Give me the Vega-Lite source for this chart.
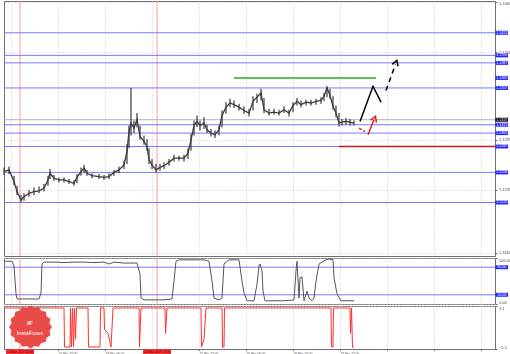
{
"$schema": "https://vega.github.io/schema/vega-lite/v6.json",
"padding": 0,
"background": "white",
"spacing": 2,
"bounds": "flush",
"config": {
  "view": {"stroke": "#707070", "strokeWidth": 1},
  "axis": {"gridColor": "#cccccc", "gridDash": [1, 2], "gridWidth": 1, "labelFont": "Liberation Sans", "labelFontSize": 4, "labelColor": "#444444", "domainColor": "#707070", "tickColor": "#707070", "tickSize": 2, "labelPadding": 1.5, "title": null, "labelFlush": true},
  "text": {"font": "Liberation Sans"}
},
"datasets": {
  "vlines": [{"x": 16}, {"x": 153}],
  "price": [
    {"x":0,"c":1.1257,"hi":1.1262,"lo":1.1253},{"x":5,"c":1.1259,"hi":1.1263,"lo":1.1254},{"x":10,"c":1.1245,"hi":1.1252,"lo":1.1241},{"x":13,"c":1.1233,"hi":1.1240,"lo":1.1229},{"x":17,"c":1.1223,"hi":1.1229,"lo":1.1220},{"x":20,"c":1.1227,"hi":1.1231,"lo":1.1222},{"x":25,"c":1.1231,"hi":1.1235,"lo":1.1227},{"x":30,"c":1.1233,"hi":1.1238,"lo":1.1229},{"x":35,"c":1.1234,"hi":1.1239,"lo":1.1231},{"x":40,"c":1.1237,"hi":1.1242,"lo":1.1233},{"x":44,"c":1.1247,"hi":1.1252,"lo":1.1240},{"x":46,"c":1.1255,"hi":1.1260,"lo":1.1248},{"x":50,"c":1.1249,"hi":1.1253,"lo":1.1246},{"x":55,"c":1.1247,"hi":1.1250,"lo":1.1244},{"x":60,"c":1.1247,"hi":1.1250,"lo":1.1244},{"x":65,"c":1.1245,"hi":1.1248,"lo":1.1242},{"x":70,"c":1.1243,"hi":1.1247,"lo":1.1240},{"x":73,"c":1.1250,"hi":1.1254,"lo":1.1243},{"x":77,"c":1.1257,"hi":1.1262,"lo":1.1252},{"x":80,"c":1.1261,"hi":1.1265,"lo":1.1255},{"x":83,"c":1.1255,"hi":1.1259,"lo":1.1252},{"x":88,"c":1.1252,"hi":1.1255,"lo":1.1249},{"x":95,"c":1.1251,"hi":1.1254,"lo":1.1248},{"x":100,"c":1.1250,"hi":1.1253,"lo":1.1247},{"x":105,"c":1.1251,"hi":1.1255,"lo":1.1248},{"x":110,"c":1.1256,"hi":1.1259,"lo":1.1252},{"x":115,"c":1.1259,"hi":1.1263,"lo":1.1255},{"x":120,"c":1.1265,"hi":1.1270,"lo":1.1260},{"x":123,"c":1.1281,"hi":1.1290,"lo":1.1266},{"x":125,"c":1.1305,"hi":1.1312,"lo":1.1285},{"x":127,"c":1.1315,"hi":1.1357,"lo":1.1300},{"x":130,"c":1.1309,"hi":1.1318,"lo":1.1303},{"x":133,"c":1.1319,"hi":1.1327,"lo":1.1310},{"x":136,"c":1.1299,"hi":1.1312,"lo":1.1295},{"x":140,"c":1.1293,"hi":1.1300,"lo":1.1289},{"x":143,"c":1.1287,"hi":1.1296,"lo":1.1282},{"x":145,"c":1.1271,"hi":1.1285,"lo":1.1266},{"x":148,"c":1.1265,"hi":1.1272,"lo":1.1260},{"x":152,"c":1.1259,"hi":1.1266,"lo":1.1256},{"x":156,"c":1.1262,"hi":1.1266,"lo":1.1258},{"x":160,"c":1.1264,"hi":1.1268,"lo":1.1260},{"x":165,"c":1.1268,"hi":1.1272,"lo":1.1264},{"x":170,"c":1.1273,"hi":1.1277,"lo":1.1269},{"x":175,"c":1.1273,"hi":1.1276,"lo":1.1270},{"x":180,"c":1.1273,"hi":1.1277,"lo":1.1269},{"x":184,"c":1.1279,"hi":1.1285,"lo":1.1272},{"x":187,"c":1.1295,"hi":1.1302,"lo":1.1282},{"x":190,"c":1.1312,"hi":1.1318,"lo":1.1300},{"x":193,"c":1.1317,"hi":1.1324,"lo":1.1310},{"x":196,"c":1.1312,"hi":1.1318,"lo":1.1306},{"x":200,"c":1.1315,"hi":1.1322,"lo":1.1308},{"x":203,"c":1.1307,"hi":1.1313,"lo":1.1303},{"x":207,"c":1.1303,"hi":1.1308,"lo":1.1299},{"x":211,"c":1.1301,"hi":1.1306,"lo":1.1297},{"x":215,"c":1.1307,"hi":1.1312,"lo":1.1300},{"x":218,"c":1.1324,"hi":1.1330,"lo":1.1310},{"x":222,"c":1.1334,"hi":1.1340,"lo":1.1326},{"x":226,"c":1.1339,"hi":1.1344,"lo":1.1334},{"x":230,"c":1.1337,"hi":1.1342,"lo":1.1333},{"x":235,"c":1.1334,"hi":1.1338,"lo":1.1330},{"x":240,"c":1.1330,"hi":1.1335,"lo":1.1326},{"x":245,"c":1.1327,"hi":1.1332,"lo":1.1323},{"x":249,"c":1.1341,"hi":1.1347,"lo":1.1330},{"x":253,"c":1.1346,"hi":1.1350,"lo":1.1339},{"x":257,"c":1.1351,"hi":1.1356,"lo":1.1342},{"x":260,"c":1.1331,"hi":1.1345,"lo":1.1327},{"x":265,"c":1.1327,"hi":1.1332,"lo":1.1324},{"x":270,"c":1.1328,"hi":1.1332,"lo":1.1325},{"x":275,"c":1.1327,"hi":1.1331,"lo":1.1324},{"x":280,"c":1.1331,"hi":1.1335,"lo":1.1327},{"x":285,"c":1.1327,"hi":1.1331,"lo":1.1323},{"x":289,"c":1.1336,"hi":1.1340,"lo":1.1328},{"x":293,"c":1.1341,"hi":1.1345,"lo":1.1336},{"x":297,"c":1.1337,"hi":1.1342,"lo":1.1334},{"x":302,"c":1.1340,"hi":1.1343,"lo":1.1336},{"x":307,"c":1.1339,"hi":1.1343,"lo":1.1336},{"x":312,"c":1.1341,"hi":1.1344,"lo":1.1337},{"x":317,"c":1.1342,"hi":1.1346,"lo":1.1338},{"x":320,"c":1.1347,"hi":1.1351,"lo":1.1341},{"x":323,"c":1.1357,"hi":1.1359,"lo":1.1346},{"x":326,"c":1.1348,"hi":1.1356,"lo":1.1344},{"x":329,"c":1.1335,"hi":1.1347,"lo":1.1331},{"x":332,"c":1.1327,"hi":1.1336,"lo":1.1322},{"x":335,"c":1.1315,"hi":1.1327,"lo":1.1311},{"x":338,"c":1.1316,"hi":1.1320,"lo":1.1312},{"x":342,"c":1.1317,"hi":1.1321,"lo":1.1313},{"x":346,"c":1.1316,"hi":1.1320,"lo":1.1312},{"x":350,"c":1.1315,"hi":1.1318,"lo":1.1312}
  ],
  "blue": [{"p":1.1423},{"p":1.1396},{"p":1.1387},{"p":1.1357},{"p":1.1313},{"p":1.1303},{"p":1.1287},{"p":1.1256},{"p":1.1220}],
  "lbl": [{"p":1.1423},{"p":1.1396},{"p":1.1387},{"p":1.1369},{"p":1.1357},{"p":1.1313},{"p":1.1303},{"p":1.1287},{"p":1.1256},{"p":1.1220}],
  "bid": [{"p":1.1319}],
  "green": [{"x0":230,"x1":372,"p":1.1369}],
  "redlvl": [{"x0":335,"x1":491,"p":1.1287}],
  "blk": [{"x":356,"p":1.1317},{"x":369,"p":1.1359},{"x":377,"p":1.1340}],
  "blkd": [{"x":382,"p":1.1354},{"x":391.5,"p":1.1385}],
  "redd": [{"x":355,"p":1.1309},{"x":361,"p":1.1305}],
  "reds": [{"x":364,"p":1.1301},{"x":370,"p":1.1319}],
  "headb": [{"x":392,"p":1.1387}],
  "headr": [{"x":370.5,"p":1.1320}],
  "stoch": [
    {"x":0,"v":93},{"x":8,"v":93},{"x":10,"v":83},{"x":12,"v":22},{"x":13,"v":11},{"x":20,"v":11},{"x":30,"v":11},{"x":35,"v":11},{"x":37,"v":24},{"x":38,"v":87},{"x":40,"v":91},{"x":50,"v":91},{"x":60,"v":90},{"x":70,"v":91},{"x":80,"v":91},{"x":90,"v":90},{"x":100,"v":91},{"x":105,"v":87},{"x":110,"v":91},{"x":120,"v":89},{"x":133,"v":89},{"x":136,"v":65},{"x":137,"v":13},{"x":140,"v":9},{"x":150,"v":9},{"x":160,"v":9},{"x":168,"v":11},{"x":170,"v":50},{"x":172,"v":93},{"x":175,"v":96},{"x":190,"v":96},{"x":200,"v":96},{"x":205,"v":93},{"x":208,"v":50},{"x":210,"v":13},{"x":215,"v":9},{"x":218,"v":13},{"x":220,"v":87},{"x":225,"v":96},{"x":235,"v":96},{"x":238,"v":50},{"x":240,"v":24},{"x":243,"v":7},{"x":250,"v":7},{"x":253,"v":43},{"x":255,"v":83},{"x":256,"v":87},{"x":258,"v":72},{"x":259,"v":28},{"x":261,"v":7},{"x":270,"v":7},{"x":280,"v":7},{"x":290,"v":9},{"x":292,"v":72},{"x":293,"v":93},{"x":295,"v":13},{"x":296,"v":57},{"x":298,"v":59},{"x":300,"v":7},{"x":303,"v":28},{"x":305,"v":13},{"x":308,"v":7},{"x":310,"v":13},{"x":312,"v":50},{"x":315,"v":87},{"x":318,"v":91},{"x":322,"v":96},{"x":325,"v":98},{"x":329,"v":96},{"x":330,"v":57},{"x":333,"v":22},{"x":337,"v":7},{"x":350,"v":7}
  ],
  "slev": [{"v":80},{"v":20}],
  "sig": [
    {"x":0,"s":1},{"x":60,"s":1},{"x":60.5,"s":-1},{"x":66,"s":-1},{"x":66.5,"s":1},{"x":67.5,"s":-1},{"x":68.5,"s":1},{"x":69.5,"s":-1},{"x":70.5,"s":1},{"x":71.5,"s":-0.6},{"x":72.5,"s":1},{"x":84,"s":1},{"x":84.5,"s":-1},{"x":96,"s":-1},{"x":96.5,"s":1},{"x":100,"s":1},{"x":100.5,"s":-0.1},{"x":104,"s":-0.3},{"x":107,"s":-1},{"x":109,"s":1},{"x":135,"s":1},{"x":135.5,"s":-1},{"x":137,"s":1},{"x":161,"s":1},{"x":161.5,"s":-0.3},{"x":163,"s":1},{"x":197,"s":1},{"x":197.5,"s":-1},{"x":200,"s":-0.6},{"x":202,"s":1},{"x":218,"s":1},{"x":218.5,"s":-1},{"x":220,"s":-1},{"x":220.5,"s":1},{"x":327,"s":1},{"x":327.5,"s":-1},{"x":329,"s":-1},{"x":329.5,"s":1},{"x":346,"s":1},{"x":346.5,"s":-0.3},{"x":347.5,"s":1},{"x":348.5,"s":-1},{"x":350,"s":-1}
  ],
  "logo": [{"x":26.5,"s":0.03}],
  "logotxt": [{"x":26,"s":-0.3,"t":"InstaForex"}],
  "logoicon": [{"x":26,"s":0.25,"t":"iF"}],
  "cross": [{"x":16,"s":-1.23,"t":"15 Mar 2019 02:00"},{"x":153,"s":-1.23,"t":"20 Mar 2019 13:00"}]
},
"vconcat": [
  {
    "width": 491, "height": 255,
    "layer": [
      {"data": {"name": "vlines"}, "mark": {"type": "rule", "color": "#ff9a9a", "strokeWidth": 1},
       "encoding": {"x": {"field": "x", "type": "quantitative", "scale": {"domain": [0, 491], "nice": false, "zero": false},
         "axis": {"values": [7,30.5,54,77.5,101,124.5,148,171.5,195,218.5,242,265.5,289,312.5,336,359.5,383,406.5,430,453.5,477], "labels": false, "ticks": false, "domain": false, "grid": true}}}},
      {"data": {"name": "blue"}, "mark": {"type": "rule", "color": "#7878ff", "strokeWidth": 1},
       "encoding": {"y": {"field": "p", "type": "quantitative", "scale": {"domain": [1.1156, 1.1461], "nice": false, "zero": false},
         "axis": {"orient": "right", "values": [1.146,1.1445,1.143,1.1415,1.14,1.137,1.134,1.1325,1.1295,1.128,1.1265,1.125,1.1235,1.1205,1.119,1.1175,1.116], "format": ".4f", "grid": true, "labelOverlap": false}}}},
      {"data": {"name": "bid"}, "mark": {"type": "rule", "color": "#b4b4b4", "strokeWidth": 1},
       "encoding": {"y": {"field": "p", "type": "quantitative", "scale": {"domain": [1.1156, 1.1461], "nice": false, "zero": false}}}},
      {"data": {"name": "green"}, "mark": {"type": "rule", "color": "#5cbf5c", "strokeWidth": 2},
       "encoding": {"x": {"field": "x0", "type": "quantitative"}, "x2": {"field": "x1"}, "y": {"field": "p", "type": "quantitative", "scale": {"domain": [1.1156, 1.1461], "nice": false, "zero": false}}}},
      {"data": {"name": "redlvl"}, "mark": {"type": "rule", "color": "#c41e1e", "strokeWidth": 1.5},
       "encoding": {"x": {"field": "x0", "type": "quantitative"}, "x2": {"field": "x1"}, "y": {"field": "p", "type": "quantitative", "scale": {"domain": [1.1156, 1.1461], "nice": false, "zero": false}}}},
      {"data": {"name": "price"}, "mark": {"type": "rule", "color": "#3a3a3a", "strokeWidth": 1.2},
       "encoding": {"x": {"field": "x", "type": "quantitative"}, "y": {"field": "lo", "type": "quantitative", "scale": {"domain": [1.1156, 1.1461], "nice": false, "zero": false}}, "y2": {"field": "hi"}}},
      {"data": {"name": "price"}, "mark": {"type": "line", "color": "#3a3a3a", "strokeWidth": 1.3},
       "encoding": {"x": {"field": "x", "type": "quantitative"}, "y": {"field": "c", "type": "quantitative", "scale": {"domain": [1.1156, 1.1461], "nice": false, "zero": false}}}},
      {"data": {"name": "blk"}, "mark": {"type": "line", "color": "#000000", "strokeWidth": 1.5},
       "encoding": {"x": {"field": "x", "type": "quantitative"}, "y": {"field": "p", "type": "quantitative", "scale": {"domain": [1.1156, 1.1461], "nice": false, "zero": false}}}},
      {"data": {"name": "blkd"}, "mark": {"type": "line", "color": "#000000", "strokeWidth": 1.5, "strokeDash": [5, 4]},
       "encoding": {"x": {"field": "x", "type": "quantitative"}, "y": {"field": "p", "type": "quantitative", "scale": {"domain": [1.1156, 1.1461], "nice": false, "zero": false}}}},
      {"data": {"name": "redd"}, "mark": {"type": "line", "color": "#e02020", "strokeWidth": 1.5, "strokeDash": [3, 2]},
       "encoding": {"x": {"field": "x", "type": "quantitative"}, "y": {"field": "p", "type": "quantitative", "scale": {"domain": [1.1156, 1.1461], "nice": false, "zero": false}}}},
      {"data": {"name": "reds"}, "mark": {"type": "line", "color": "#e02020", "strokeWidth": 1.5},
       "encoding": {"x": {"field": "x", "type": "quantitative"}, "y": {"field": "p", "type": "quantitative", "scale": {"domain": [1.1156, 1.1461], "nice": false, "zero": false}}}},
      {"data": {"name": "headb"}, "mark": {"type": "point", "shape": "M-0.7,0.6L0,-0.6L0.7,0.6", "filled": false, "stroke": "#000000", "strokeWidth": 1.5, "size": 80, "angle": 19, "opacity": 1},
       "encoding": {"x": {"field": "x", "type": "quantitative"}, "y": {"field": "p", "type": "quantitative", "scale": {"domain": [1.1156, 1.1461], "nice": false, "zero": false}}}},
      {"data": {"name": "headr"}, "mark": {"type": "point", "shape": "M-0.7,0.6L0,-0.6L0.7,0.6", "filled": false, "stroke": "#e02020", "strokeWidth": 1.5, "size": 80, "angle": 22, "opacity": 1},
       "encoding": {"x": {"field": "x", "type": "quantitative"}, "y": {"field": "p", "type": "quantitative", "scale": {"domain": [1.1156, 1.1461], "nice": false, "zero": false}}}},
      {"data": {"name": "lbl"}, "mark": {"type": "point", "shape": "M-1,-0.32L1,-0.32L1,0.32L-1,0.32Z", "filled": true, "color": "#2424ff", "size": 156, "opacity": 1},
       "encoding": {"x": {"datum": 497.75, "type": "quantitative"}, "y": {"field": "p", "type": "quantitative", "scale": {"domain": [1.1156, 1.1461], "nice": false, "zero": false}}}},
      {"data": {"name": "lbl"}, "mark": {"type": "text", "color": "white", "fontSize": 3.6, "align": "center", "baseline": "middle"},
       "encoding": {"x": {"datum": 497.75, "type": "quantitative"}, "y": {"field": "p", "type": "quantitative", "scale": {"domain": [1.1156, 1.1461], "nice": false, "zero": false}}, "text": {"field": "p", "format": ".4f"}}},
      {"data": {"name": "bid"}, "mark": {"type": "point", "shape": "M-1,-0.32L1,-0.32L1,0.32L-1,0.32Z", "filled": true, "color": "#000000", "size": 156, "opacity": 1},
       "encoding": {"x": {"datum": 497.75, "type": "quantitative"}, "y": {"field": "p", "type": "quantitative", "scale": {"domain": [1.1156, 1.1461], "nice": false, "zero": false}}}},
      {"data": {"name": "bid"}, "mark": {"type": "text", "color": "white", "fontSize": 3.6, "align": "center", "baseline": "middle"},
       "encoding": {"x": {"datum": 497.75, "type": "quantitative"}, "y": {"field": "p", "type": "quantitative", "scale": {"domain": [1.1156, 1.1461], "nice": false, "zero": false}}, "text": {"field": "p", "format": ".4f"}}}
    ]
  },
  {
    "width": 491, "height": 46,
    "layer": [
      {"data": {"name": "vlines"}, "mark": {"type": "rule", "color": "#ff9a9a", "strokeWidth": 1},
       "encoding": {"x": {"field": "x", "type": "quantitative", "scale": {"domain": [0, 491], "nice": false, "zero": false},
         "axis": {"values": [7,30.5,54,77.5,101,124.5,148,171.5,195,218.5,242,265.5,289,312.5,336,359.5,383,406.5,430,453.5,477], "labels": false, "ticks": false, "domain": false, "grid": true}}}},
      {"data": {"name": "slev"}, "mark": {"type": "rule", "color": "#7878ff", "strokeWidth": 1},
       "encoding": {"y": {"field": "v", "type": "quantitative", "scale": {"domain": [0, 100], "nice": false, "zero": false},
         "axis": {"orient": "right", "values": [100, 50, 0], "format": ".2f", "grid": true, "labelOverlap": false}}}},
      {"data": {"name": "stoch"}, "mark": {"type": "line", "color": "#555555", "strokeWidth": 1},
       "encoding": {"x": {"field": "x", "type": "quantitative"}, "y": {"field": "v", "type": "quantitative", "scale": {"domain": [0, 100], "nice": false, "zero": false}}}},
      {"data": {"name": "slev"}, "mark": {"type": "point", "shape": "M-1,-0.32L1,-0.32L1,0.32L-1,0.32Z", "filled": true, "color": "#2424ff", "size": 156, "opacity": 1},
       "encoding": {"x": {"datum": 497.75, "type": "quantitative"}, "y": {"field": "v", "type": "quantitative", "scale": {"domain": [0, 100], "nice": false, "zero": false}}}},
      {"data": {"name": "slev"}, "mark": {"type": "text", "color": "white", "fontSize": 3.6, "align": "center", "baseline": "middle"},
       "encoding": {"x": {"datum": 497.75, "type": "quantitative"}, "y": {"field": "v", "type": "quantitative", "scale": {"domain": [0, 100], "nice": false, "zero": false}}, "text": {"field": "v", "format": ".2f"}}}
    ]
  },
  {
    "width": 491, "height": 43,
    "layer": [
      {"data": {"name": "vlines"}, "mark": {"type": "rule", "color": "#ff9a9a", "strokeWidth": 1},
       "encoding": {"x": {"field": "x", "type": "quantitative", "scale": {"domain": [0, 491], "nice": false, "zero": false},
         "axis": {"values": [7,30.5,54,77.5,101,124.5,148,171.5,195,218.5,242,265.5,289,312.5,336,359.5,383,406.5,430,453.5,477],
           "labelExpr": "datum.value < 20 || datum.value > 340 || (datum.value > 140 && datum.value < 160) ? '' : ['15 Mar 06:00','15 Mar 22:00','18 Mar 14:00','19 Mar 06:00','19 Mar 22:00','20 Mar 14:00','21 Mar 06:00','21 Mar 22:00','22 Mar 14:00','25 Mar 06:00','25 Mar 22:00','26 Mar 14:00','27 Mar 06:00','27 Mar 22:00'][round((datum.value - 30.5) / 23.5)]",
           "labelAlign": "left", "labelFontSize": 3.2, "labelPadding": 0.5, "tickSize": 1.5, "labelFlush": false, "labelOverlap": false, "labelBound": false, "grid": true, "ticks": true, "domain": true}}}},
      {"data": {"name": "sig"}, "mark": {"type": "line", "color": "#ff3030", "strokeWidth": 1},
       "encoding": {"x": {"field": "x", "type": "quantitative"}, "y": {"field": "s", "type": "quantitative", "scale": {"domain": [-1.1, 1.1], "nice": false, "zero": false},
         "axis": {"orient": "right", "values": [1.1, 0, -1.1], "labelExpr": "datum.value == 0 ? '0.00' : format(datum.value, '.1f')", "grid": true, "labelOverlap": false}}}},
      {"data": {"name": "logo"}, "mark": {"type": "point", "shape": "M1,0L0.883,0.176L0.924,0.383L0.748,0.5L0.707,0.707L0.5,0.748L0.383,0.924L0.176,0.883L0,1L-0.176,0.883L-0.383,0.924L-0.5,0.748L-0.707,0.707L-0.748,0.5L-0.924,0.383L-0.883,0.176L-1,0L-0.883,-0.176L-0.924,-0.383L-0.748,-0.5L-0.707,-0.707L-0.5,-0.748L-0.383,-0.924L-0.176,-0.883L0,-1L0.176,-0.883L0.383,-0.924L0.5,-0.748L0.707,-0.707L0.748,-0.5L0.924,-0.383L0.883,-0.176Z", "filled": true, "color": "#e8423c", "size": 1850, "opacity": 0.95},
       "encoding": {"x": {"field": "x", "type": "quantitative"}, "y": {"field": "s", "type": "quantitative", "scale": {"domain": [-1.1, 1.1], "nice": false, "zero": false}}}},
      {"data": {"name": "logotxt"}, "mark": {"type": "text", "color": "white", "fontSize": 5.6, "align": "center", "baseline": "middle"},
       "encoding": {"x": {"field": "x", "type": "quantitative"}, "y": {"field": "s", "type": "quantitative", "scale": {"domain": [-1.1, 1.1], "nice": false, "zero": false}}, "text": {"field": "t"}}},
      {"data": {"name": "logoicon"}, "mark": {"type": "text", "color": "white", "fontSize": 6, "fontWeight": "bold", "align": "center", "baseline": "middle"},
       "encoding": {"x": {"field": "x", "type": "quantitative"}, "y": {"field": "s", "type": "quantitative", "scale": {"domain": [-1.1, 1.1], "nice": false, "zero": false}}, "text": {"field": "t"}}},
      {"data": {"name": "cross"}, "mark": {"type": "point", "shape": "M-1,-0.18L1,-0.18L1,0.18L-1,0.18Z", "filled": true, "color": "#ff3333", "size": 784, "opacity": 1},
       "encoding": {"x": {"field": "x", "type": "quantitative"}, "y": {"field": "s", "type": "quantitative", "scale": {"domain": [-1.1, 1.1], "nice": false, "zero": false}}}},
      {"data": {"name": "cross"}, "mark": {"type": "text", "color": "#3a0000", "fontSize": 3.2, "align": "center", "baseline": "middle"},
       "encoding": {"x": {"field": "x", "type": "quantitative"}, "y": {"field": "s", "type": "quantitative", "scale": {"domain": [-1.1, 1.1], "nice": false, "zero": false}}, "text": {"field": "t"}}}
    ]
  }
]
}
